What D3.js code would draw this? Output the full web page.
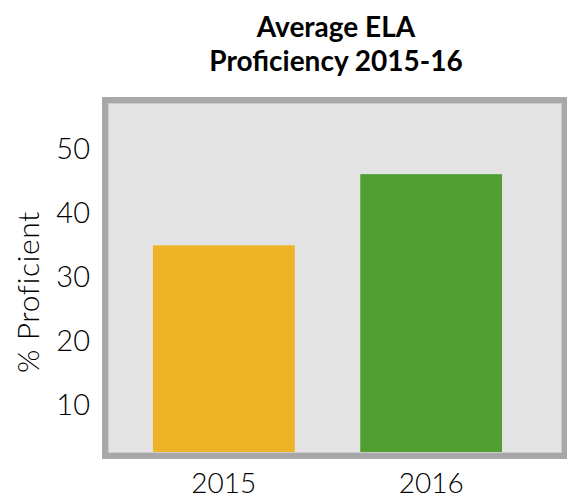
<!DOCTYPE html>
<html>
<head>
<meta charset="utf-8">
<script src="https://cdn.jsdelivr.net/npm/d3@7"></script>
<style>
  body { margin: 0; background: #fff; }
  text { font-family: Lato, "Open Sans", sans-serif; fill: #000; }
</style>
</head>
<body>
<div id="chart"></div>
<script>
var svgWidth = 567;
var svgHeight = 500;

// data
var years = ["2015", "2016"];
var proficiency = [34.8, 45.9];
var barColors = ["#efb327", "#519e33"];
var yTicks = [10, 20, 30, 40, 50];
var titleLines = ["Average ELA", "Proficiency 2015-16"];

// plot area (inside the gray frame)
var plot = { left: 108, right: 562, top: 103, bottom: 453 };

var svg = d3.select("#chart")
  .append("svg")
  .attr("width", svgWidth)
  .attr("height", svgHeight);

// scales
var xBandScale = d3.scaleBand()
  .domain(years)
  .range([103, 552])
  .paddingInner(0.316)
  .paddingOuter(0.241);

var yLinearScale = d3.scaleLinear()
  .domain([2.4, 57])
  .range([plot.bottom, plot.top]);

// plot background
svg.append("rect")
  .attr("x", plot.left)
  .attr("y", plot.top)
  .attr("width", plot.right - plot.left)
  .attr("height", plot.bottom - plot.top)
  .attr("fill", "#e3e3e3");

// bars
svg.selectAll(".bar")
  .data(years)
  .enter()
  .append("rect")
  .attr("class", "bar")
  .attr("x", d => xBandScale(d))
  .attr("width", xBandScale.bandwidth())
  .attr("y", (d, i) => yLinearScale(proficiency[i]))
  .attr("height", (d, i) => yLinearScale.range()[0] - yLinearScale(proficiency[i]))
  .attr("fill", (d, i) => barColors[i]);

// inner light line + thick gray frame
svg.append("rect")
  .attr("x", plot.left + 0.5)
  .attr("y", plot.top + 0.5)
  .attr("width", plot.right - plot.left - 1)
  .attr("height", plot.bottom - plot.top - 1)
  .attr("fill", "none")
  .attr("stroke", "#cbcbcb")
  .attr("stroke-width", 1);

svg.append("rect")
  .attr("x", plot.left - 3)
  .attr("y", plot.top - 3)
  .attr("width", plot.right - plot.left + 6)
  .attr("height", plot.bottom - plot.top + 6)
  .attr("fill", "none")
  .attr("stroke", "#a8a8aa")
  .attr("stroke-width", 6);

// y axis (labels only)
var leftAxis = d3.axisLeft(yLinearScale)
  .tickValues(yTicks)
  .tickSize(0)
  .tickPadding(0);

var yAxis = svg.append("g")
  .attr("transform", "translate(90,0)")
  .call(leftAxis);
yAxis.select(".domain").remove();
yAxis.selectAll("text")
  .attr("font-size", 29)
  .attr("fill", "#000")
  .attr("dy", "0.36em")
  .style("font-family", "Lato, sans-serif")
  .style("font-weight", 300);

// x axis (labels only)
var bottomAxis = d3.axisBottom(xBandScale)
  .tickSize(0)
  .tickPadding(0);

var xAxis = svg.append("g")
  .attr("transform", "translate(0,473)")
  .call(bottomAxis);
xAxis.select(".domain").remove();
xAxis.selectAll("text")
  .attr("font-size", 28)
  .attr("fill", "#000")
  .attr("dy", "0.71em")
  .style("font-family", "Lato, sans-serif")
  .style("font-weight", 300);

// y title
svg.append("text")
  .attr("transform", "translate(39,292) rotate(-90)")
  .attr("text-anchor", "middle")
  .attr("font-size", 30)
  .attr("font-weight", 300)
  .attr("letter-spacing", 0.6)
  .text("% Proficient");

// chart title
svg.selectAll(".title")
  .data(titleLines)
  .enter()
  .append("text")
  .attr("class", "title")
  .attr("x", 336)
  .attr("y", (d, i) => 37 + i * 34)
  .attr("text-anchor", "middle")
  .attr("font-size", 28)
  .attr("font-weight", "bold")
  .text(d => d);
</script>
</body>
</html>
